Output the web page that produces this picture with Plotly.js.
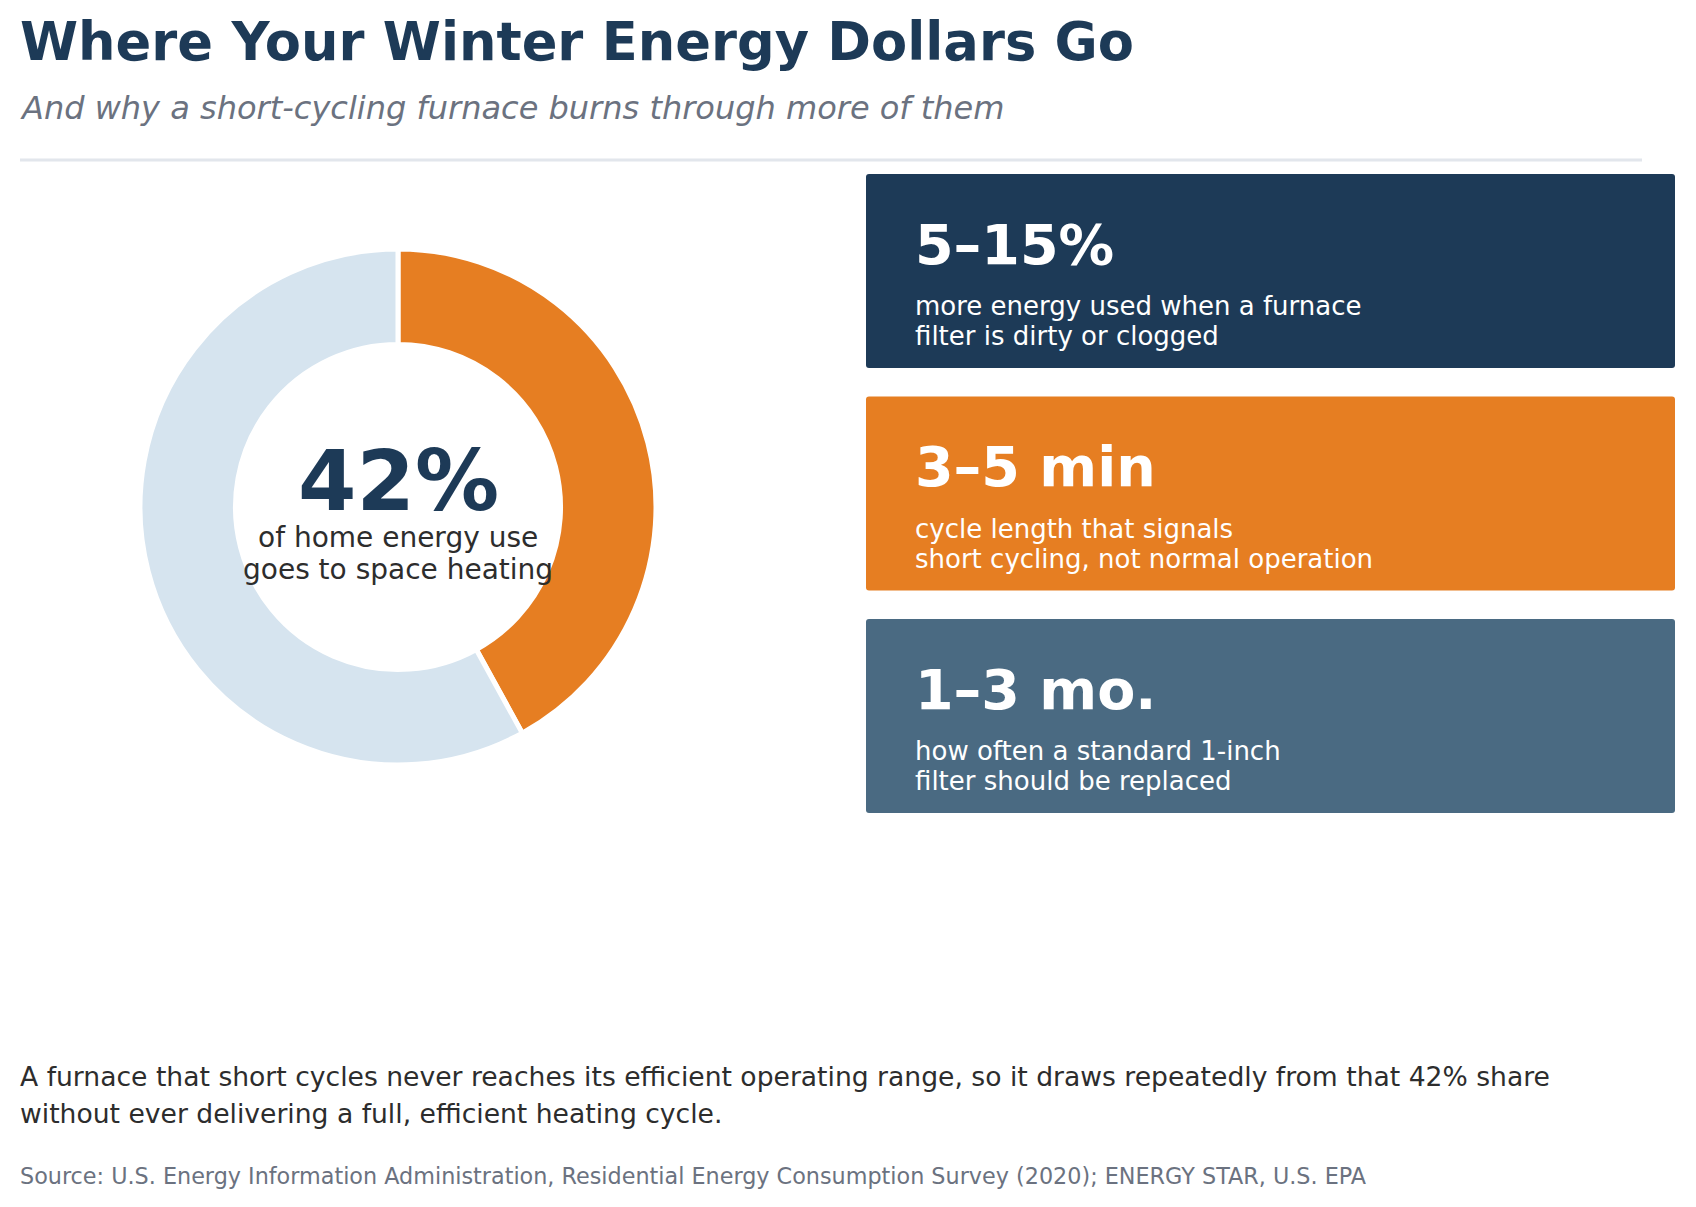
<!DOCTYPE html>
<html>
<head>
<meta charset="utf-8">
<script src="https://cdn.plot.ly/plotly-3.0.1.min.js"></script>
<style>
  html, body { margin: 0; padding: 0; background: #ffffff; }
  #myDiv { width: 1696px; height: 1207px; }
</style>
</head>
<body>
<div id="myDiv"></div>
<script>
// data
var shareLabels = ['Space heating', 'Everything else'];
var shareValues = [42, 58];
var headline = '42%';
var headlineNote = ['of home energy use', 'goes to space heating'];

var statValues = ['5–15%', '3–5 min', '1–3 mo.'];
var statLabels = [
  ['more energy used when a furnace', 'filter is dirty or clogged'],
  ['cycle length that signals', 'short cycling, not normal operation'],
  ['how often a standard 1-inch', 'filter should be replaced']
];

var footnote = [
  'A furnace that short cycles never reaches its efficient operating range, so it draws repeatedly from that 42% share',
  'without ever delivering a full, efficient heating cycle.'
];
var source = 'Source: U.S. Energy Information Administration, Residential Energy Consumption Survey (2020); ENERGY STAR, U.S. EPA';

// styles
var W = 1696, H = 1207;
var navy = '#1d3a57', orange = '#e67e22', slate = '#4a6a82', pale = '#d6e4ef';
var cardColors = [navy, orange, slate];
var font = 'DejaVu Sans, Verdana, sans-serif';

function px(x) { return x / W; }
function py(y) { return 1 - y / H; }

function note(text, x, y, size, color, opts) {
  var a = {
    text: text, x: px(x), y: py(y), xref: 'paper', yref: 'paper',
    xanchor: 'left', yanchor: 'middle', showarrow: false,
    font: { family: font, size: size, color: color }
  };
  for (var k in opts) a[k] = opts[k];
  return a;
}

// rectangle with slightly rounded corners, in pixel units -> paper path
function roundRect(x0, y0, x1, y1, r) {
  function P(x, y) { return px(x) + ',' + py(y); }
  return 'M' + P(x0 + r, y0) + ' L' + P(x1 - r, y0) + ' Q' + P(x1, y0) + ' ' + P(x1, y0 + r) +
    ' L' + P(x1, y1 - r) + ' Q' + P(x1, y1) + ' ' + P(x1 - r, y1) +
    ' L' + P(x0 + r, y1) + ' Q' + P(x0, y1) + ' ' + P(x0, y1 - r) +
    ' L' + P(x0, y0 + r) + ' Q' + P(x0, y0) + ' ' + P(x0 + r, y0) + ' Z';
}

// donut centred at (398, 507)
var donut = {
  type: 'pie',
  labels: shareLabels,
  values: shareValues,
  hole: 0.63,
  sort: false,
  direction: 'clockwise',
  rotation: 0,
  textinfo: 'none',
  hoverinfo: 'label+percent',
  marker: { colors: [orange, pale], line: { color: '#ffffff', width: 5 } },
  domain: { x: [px(140), px(656)], y: [py(765), py(249)] },
  showlegend: false
};

var shapes = [{
  type: 'line', xref: 'paper', yref: 'paper',
  x0: px(20), x1: px(1642), y0: py(160), y1: py(160),
  line: { color: '#e2e6ec', width: 3 }
}];

var annotations = [
  note('<b>Where Your Winter Energy Dollars Go</b>', 18, 41, 52.7, navy),
  note('<i>And why a short-cycling furnace burns through more of them</i>', 18, 108, 32, '#6b7280'),
  note('<b>' + headline + '</b>', 398, 481, 84, navy, { xanchor: 'center' }),
  note(headlineNote[0], 398, 537, 28, '#2d2d2d', { xanchor: 'center' }),
  note(headlineNote[1], 398, 569, 28, '#2d2d2d', { xanchor: 'center' }),
  note(footnote[0], 18, 1076, 26.6, '#2d2d2d'),
  note(footnote[1], 18, 1113, 26.6, '#2d2d2d'),
  note(source, 18, 1176, 22.3, '#6b7280')
];

// stat cards
var cardTop = 174, cardH = 194, cardStep = 222.5;
statValues.forEach(function (v, i) {
  var top = cardTop + i * cardStep;
  shapes.push({
    type: 'path', xref: 'paper', yref: 'paper',
    path: roundRect(866, top, 1675, top + cardH, 3),
    fillcolor: cardColors[i], line: { width: 0 }, layer: 'below'
  });
  annotations.push(note('<b>' + v + '</b>', 913, top + 70, 55.5, '#ffffff'));
  annotations.push(note(statLabels[i][0], 913, top + 132, 26, '#ffffff'));
  annotations.push(note(statLabels[i][1], 913, top + 162, 26, '#ffffff'));
});

var layout = {
  width: W, height: H,
  margin: { l: 0, r: 0, t: 0, b: 0 },
  paper_bgcolor: '#ffffff',
  plot_bgcolor: '#ffffff',
  shapes: shapes,
  annotations: annotations,
  font: { family: font }
};

Plotly.newPlot('myDiv', [donut], layout, { displayModeBar: false, staticPlot: true });
</script>
</body>
</html>
